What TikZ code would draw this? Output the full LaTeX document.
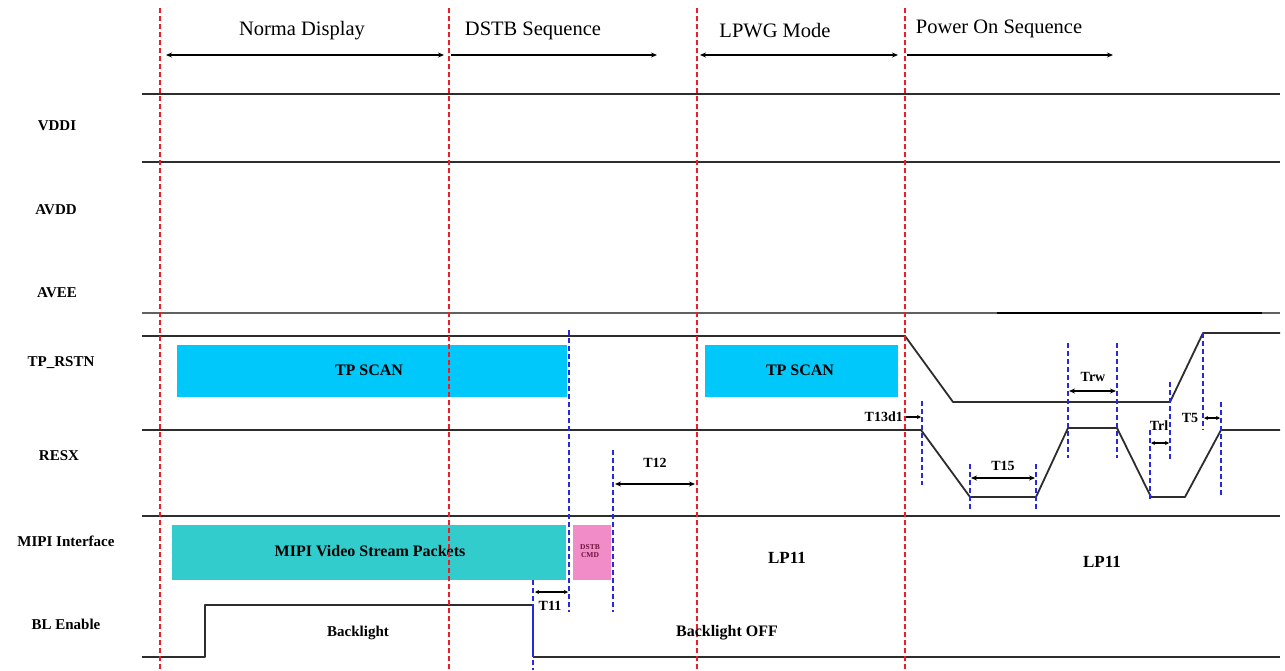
\documentclass[tikz,border=0pt]{standalone}
\usepackage{fontspec}
\setmainfont{Liberation Serif}
\usetikzlibrary{arrows.meta}
\definecolor{tpcyan}{RGB}{0,200,250}
\definecolor{mipiteal}{RGB}{51,204,204}
\definecolor{cmdpink}{RGB}{242,140,200}
\definecolor{sigline}{RGB}{45,45,45}
\definecolor{dashblue}{RGB}{40,40,220}
\definecolor{cmdtext}{RGB}{110,20,60}
\definecolor{dashred}{RGB}{235,30,40}
\begin{document}
\begin{tikzpicture}[x=1pt,y=-1pt,
  sig/.style={draw=sigline,line width=1.8pt},
  reddash/.style={draw=dashred,line width=1.4pt,dash pattern=on 5pt off 3pt},
  bluedash/.style={draw=dashblue,line width=1.2pt,dash pattern=on 5pt off 3pt},
  dim/.style={line width=1.3pt,{Stealth[length=6pt,width=5pt]}-{Stealth[length=6pt,width=5pt]}},
  dimone/.style={line width=1.3pt,-{Stealth[length=6pt,width=5pt]}},
  head/.style={font=\fontsize{20.5}{23}\selectfont,inner sep=0pt},
  sigl/.style={font=\fontsize{15}{17}\selectfont\bfseries,inner sep=0pt},
  tl/.style={font=\fontsize{14}{16}\selectfont\bfseries,inner sep=0pt},
  boxtxt/.style={font=\fontsize{16}{18}\selectfont\bfseries,inner sep=0pt},
  region/.style={inner sep=0pt,draw=none}
]
\useasboundingbox[fill=white] (0,0) rectangle (1285,670);

% ---- section headings and arrows ----
\node[head] (hnorm) at (302,31) {Norma Display};
\node[head] (hdstb) at (533,31) {DSTB Sequence};
\node[head] (hlpwg) at (775,31) {LPWG Mode};
\node[head] (hpow) at (999,29) {Power On Sequence};
\coordinate (na) at (166,55); \coordinate (nb) at (444,55);
\coordinate (da) at (451,55); \coordinate (db) at (657,55);
\coordinate (la) at (700,55); \coordinate (lb) at (898,55);
\coordinate (pa) at (907,55); \coordinate (pb) at (1113,55);
\draw[dim,line width=1.6pt] (na) -- (nb);
\draw[dimone,line width=1.6pt] (da) -- (db);
\draw[dim,line width=1.6pt] (la) -- (lb);
\draw[dimone,line width=1.6pt] (pa) -- (pb);

% ---- signal names ----
\node[sigl] (n1) at (57,126) {VDDI};
\node[sigl] (n2) at (56,210) {AVDD};
\node[sigl] (n3) at (57,293) {AVEE};
\node[sigl] (n4) at (61,363) {TP\_RSTN};
\node[sigl] (n5) at (59,456) {RESX};
\node[sigl] (n6) at (66,541) {MIPI Interface};
\node[sigl] (n7) at (66,624) {BL Enable};

% ---- coloured regions ----
\node[region,fill=tpcyan,minimum width=390pt,minimum height=52pt] (tp1) at (372,371) {};
\node[boxtxt] (tp1t) at (369,370) {TP SCAN};
\node[region,fill=tpcyan,minimum width=193pt,minimum height=52pt] (tp2) at (801.5,371) {};
\node[boxtxt] (tp2t) at (800,370) {TP SCAN};
\node[region,fill=mipiteal,minimum width=394pt,minimum height=55pt] (mipi) at (369,552.5) {};
\node[boxtxt] (mipit) at (370,551) {MIPI Video Stream Packets};
\node[region,fill=cmdpink,minimum width=38pt,minimum height=55pt] (cmd) at (592,552.5) {};
\node[font=\fontsize{7.5}{8}\selectfont\bfseries,text=cmdtext,align=center,inner sep=0pt] (cmdt) at (590,551) {DSTB\\CMD};

% ---- plain lines ----
\draw[sig] (142,94) -- (1280,94);
\draw[sig] (142,162) -- (1280,162);
\draw[sig,draw=sigline!75] (142,313) -- (1280,313);
\draw[sig,line width=2.3pt,draw=black] (997,313) -- (1262,313);
\draw[sig] (142,516) -- (1280,516);

% ---- TP_RSTN ----
\draw[sig,line join=round] (142,336) -- (905,336) -- (953,402) -- (1170,402) -- (1203,333) -- (1280,333);
% ---- RESX ----
\draw[sig,line join=round] (142,430) -- (921,430) -- (970,497) -- (1036,497) -- (1068,428)
  -- (1117,428) -- (1151,497) -- (1185,497) -- (1221,430) -- (1280,430);
% ---- BL Enable ----
\draw[sig,line join=round] (142,657) -- (205,657) -- (205,605) -- (533,605);
\draw[sig] (533,657) -- (1280,657);
\draw[draw=dashblue,line width=1.8pt] (533,605) -- (533,657);

% ---- red dashed section borders ----
\draw[reddash] (160,8) -- (160,670);
\draw[reddash] (449,8) -- (449,670);
\draw[reddash] (697,8) -- (697,670);
\draw[reddash] (905,8) -- (905,670);

% ---- blue dashed timing marks ----
\draw[bluedash] (569,330) -- (569,612);
\draw[bluedash] (613,450) -- (613,612);
\draw[bluedash] (533,580) -- (533,670);
\draw[bluedash] (922,401) -- (922,485);
\draw[bluedash] (970,464) -- (970,511);
\draw[bluedash] (1036,464) -- (1036,511);
\draw[bluedash] (1068,343) -- (1068,458);
\draw[bluedash] (1117,343) -- (1117,458);
\draw[bluedash] (1150,430) -- (1150,500);
\draw[bluedash] (1170,382) -- (1170,460);
\draw[bluedash] (1203,333) -- (1203,430);
\draw[bluedash] (1221,402) -- (1221,496);

% ---- timing dimensions ----
\coordinate (t11a) at (535,592); \coordinate (t11b) at (568,592);
\draw[dim,line width=1.1pt,{Stealth[length=4pt,width=4pt]}-{Stealth[length=4pt,width=4pt]}] (t11a) -- (t11b);
\node[tl] (t11) at (550,606) {T11};
\coordinate (t12a) at (615,484); \coordinate (t12b) at (695,484);
\draw[dim] (t12a) -- (t12b);
\node[tl] (t12) at (655,463) {T12};
\coordinate (t13a) at (906,417); \coordinate (t13b) at (921,417);
\draw[dimone,line width=1.1pt,-{Stealth[length=4pt,width=4pt]}] (t13a) -- (t13b);
\node[tl,anchor=east] (t13) at (903,417) {T13d1};
\coordinate (t15a) at (971,478); \coordinate (t15b) at (1035,478);
\draw[dim] (t15a) -- (t15b);
\node[tl] (t15) at (1003,466) {T15};
\coordinate (trwa) at (1069,391); \coordinate (trwb) at (1116,391);
\draw[dim] (trwa) -- (trwb);
\node[tl] (trw) at (1093,377) {Trw};
\coordinate (trla) at (1151,443); \coordinate (trlb) at (1169,443);
\draw[dim,line width=1.1pt,{Stealth[length=4pt,width=4pt]}-{Stealth[length=4pt,width=4pt]}] (trla) -- (trlb);
\node[tl] (trl) at (1159,426) {Trl};
\coordinate (t5a) at (1204,418); \coordinate (t5b) at (1220,418);
\draw[dim,line width=1.1pt,{Stealth[length=4pt,width=4pt]}-{Stealth[length=4pt,width=4pt]}] (t5a) -- (t5b);
\node[tl] (t5) at (1190,418) {T5};

% ---- state labels ----
\node[sigl] (bl) at (358,633) {Backlight};
\node[sigl,font=\fontsize{16}{18}\selectfont\bfseries] (bloff) at (727,633) {Backlight OFF};
\node[sigl,font=\fontsize{17}{19}\selectfont\bfseries] (lp1) at (787,558) {LP11};
\node[sigl,font=\fontsize{17}{19}\selectfont\bfseries] (lp2) at (1102,562) {LP11};
\end{tikzpicture}
\end{document}
